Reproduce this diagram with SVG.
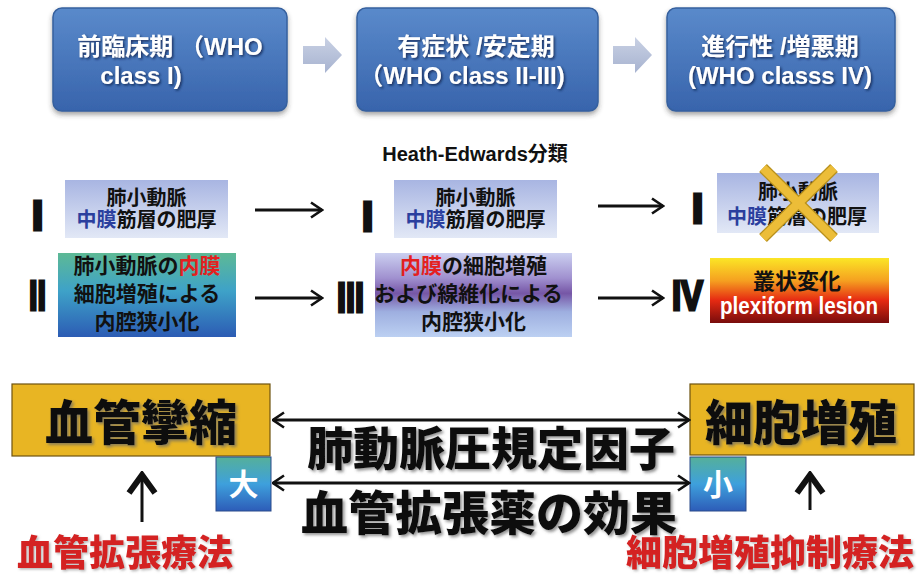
<svg xmlns="http://www.w3.org/2000/svg" width="919" height="579" viewBox="0 0 919 579">
<defs>
  <style>
    text { font-family: "Liberation Sans", "Noto Sans CJK JP", sans-serif; font-weight: bold; }
    .jp { font-family: "Noto Sans CJK JP", "Liberation Sans", sans-serif; font-weight: 900; }
    .top { fill: #ffffff; font-size: 24px; text-anchor: middle; filter: url(#tsh); }
    .cell { fill: #111; font-size: 20px; text-anchor: middle; }
    .cell2 { fill: #111; font-size: 21px; text-anchor: middle; }
    .num { fill: #111; stroke: #111; stroke-width: 3; font-size: 42px; }
    .big { fill: #111; text-anchor: middle; filter: url(#bsh); }
    .red { fill: #d42222; text-anchor: middle; filter: url(#rsh); }
    .bl { fill: #2b3f9e; }
    .rd { fill: #e42020; }
    .conn { stroke: #111; stroke-width: 3; fill: none; }
    .topbox { fill: url(#gTop); stroke: #36609e; stroke-width: 1.5; filter: url(#boxsh); }
    .ybox { fill: #e8b523; stroke: #6e5410; stroke-width: 1.2; }
    .lav { fill: url(#gLav); }
    .sq { fill: url(#gSq); stroke: #2a4a8a; stroke-width: 1; }
    .garrow { fill: url(#gGray); }
  </style>
  <linearGradient id="gTop" x1="0" y1="0" x2="0" y2="1">
    <stop offset="0" stop-color="#5a8acb"/>
    <stop offset="1" stop-color="#3864ac"/>
  </linearGradient>
  <linearGradient id="gGray" x1="0" y1="0" x2="0" y2="1">
    <stop offset="0" stop-color="#c9d1e4"/>
    <stop offset="1" stop-color="#a7b3d0"/>
  </linearGradient>
  <linearGradient id="gLav" x1="0" y1="0" x2="0" y2="1">
    <stop offset="0" stop-color="#a8b5e2"/>
    <stop offset="1" stop-color="#e2e8f6"/>
  </linearGradient>
  <linearGradient id="gTeal" x1="0" y1="0" x2="0" y2="1">
    <stop offset="0" stop-color="#5db995"/>
    <stop offset="0.45" stop-color="#3ea2c8"/>
    <stop offset="1" stop-color="#2c5cb4"/>
  </linearGradient>
  <linearGradient id="gPurp" x1="0" y1="0" x2="0" y2="1">
    <stop offset="0" stop-color="#cbcff0"/>
    <stop offset="0.3" stop-color="#a090cf"/>
    <stop offset="0.48" stop-color="#7656a6"/>
    <stop offset="0.7" stop-color="#9eafe0"/>
    <stop offset="1" stop-color="#bcd0f2"/>
  </linearGradient>
  <linearGradient id="gFire" x1="0" y1="0" x2="0" y2="1">
    <stop offset="0" stop-color="#fbe626"/>
    <stop offset="0.35" stop-color="#f5a020"/>
    <stop offset="0.65" stop-color="#e62a12"/>
    <stop offset="1" stop-color="#780c0c"/>
  </linearGradient>
  <linearGradient id="gSq" x1="0" y1="0" x2="0" y2="1">
    <stop offset="0" stop-color="#55b09a"/>
    <stop offset="0.5" stop-color="#3ea0dc"/>
    <stop offset="1" stop-color="#2d5cb8"/>
  </linearGradient>
  <filter id="tsh" x="-10%" y="-30%" width="120%" height="160%">
    <feDropShadow dx="1.5" dy="1.5" stdDeviation="1" flood-color="#10204a" flood-opacity="0.8"/>
  </filter>
  <filter id="bsh" x="-10%" y="-30%" width="120%" height="160%">
    <feDropShadow dx="2" dy="2" stdDeviation="1.5" flood-color="#666" flood-opacity="0.7"/>
  </filter>
  <filter id="rsh" x="-10%" y="-30%" width="120%" height="160%">
    <feDropShadow dx="1.5" dy="1.5" stdDeviation="1.2" flood-color="#888" flood-opacity="0.6"/>
  </filter>
  <filter id="boxsh" x="-10%" y="-10%" width="120%" height="130%">
    <feDropShadow dx="0" dy="3" stdDeviation="2.5" flood-color="#333" flood-opacity="0.45"/>
  </filter>
  <marker id="chev" viewBox="0 0 14 18" refX="12.5" refY="9" markerWidth="14" markerHeight="18" markerUnits="userSpaceOnUse" orient="auto-start-reverse">
    <path d="M1.5,1.5 L12.5,9 L1.5,16.5" fill="none" stroke="#111" stroke-width="2.6" stroke-linejoin="miter"/>
  </marker>
  <marker id="chevUp" viewBox="0 0 30 32" refX="27" refY="16" markerWidth="30" markerHeight="32" markerUnits="userSpaceOnUse" orient="auto">
    <path d="M8,3 L26,16 L8,29" fill="none" stroke="#111" stroke-width="6"/>
  </marker>
</defs>

<rect width="919" height="579" fill="#ffffff"/>

<!-- Top stage boxes -->
<g id="stage1">
  <rect class="topbox" x="53" y="8" width="234" height="103" rx="9"/>
  <text class="top" x="170" y="55">前臨床期 （WHO</text>
  <text class="top" x="141" y="84">class I)</text>
</g>
<g id="stage2">
  <rect class="topbox" x="357" y="8" width="241" height="103" rx="9"/>
  <text class="top" x="476" y="55">有症状 /安定期</text>
  <text class="top" x="462" y="84">（WHO class II-III)</text>
</g>
<g id="stage3">
  <rect class="topbox" x="667" y="8" width="228" height="103" rx="9"/>
  <text class="top" x="780" y="55">進行性 /増悪期</text>
  <text class="top" x="780" y="84">(WHO classs IV)</text>
</g>

<g id="title">
  <text x="475" y="161" font-size="20" text-anchor="middle" fill="#111">Heath-Edwards分類</text>
</g>

<!-- Row 1 -->
<g id="row1-col1">
  <text class="num" x="37.5" y="230" text-anchor="middle">I</text>
  <rect class="lav" x="65" y="180" width="163" height="58"/>
  <text class="cell" x="146.5" y="205">肺小動脈</text>
  <text class="cell" x="146.5" y="227"><tspan class="bl">中膜</tspan>筋層の肥厚</text>
</g>
<g id="row1-col2">
  <text class="num" x="367.5" y="231" text-anchor="middle">I</text>
  <rect class="lav" x="394" y="180" width="163" height="58"/>
  <text class="cell" x="475.5" y="205">肺小動脈</text>
  <text class="cell" x="475.5" y="227"><tspan class="bl">中膜</tspan>筋層の肥厚</text>
</g>
<g id="row1-col3">
  <text class="num" x="697.5" y="223" text-anchor="middle">I</text>
  <rect class="lav" x="717" y="173" width="162" height="60"/>
  <text class="cell" x="798" y="199">肺小動脈</text>
  <text class="cell" x="797" y="224"><tspan class="bl">中膜</tspan>筋層の肥厚</text>
  <g stroke-linecap="butt">
    <line x1="763" y1="168" x2="834" y2="238" stroke="#b8901c" stroke-width="11"/>
    <line x1="834" y1="168" x2="763" y2="238" stroke="#b8901c" stroke-width="11"/>
    <line x1="763" y1="168" x2="834" y2="238" stroke="#ecbd38" stroke-width="8.5"/>
    <line x1="834" y1="168" x2="763" y2="238" stroke="#ecbd38" stroke-width="8.5"/>
  </g>
</g>

<!-- Row 2 -->
<g id="row2-col1">
  <text class="num" x="29" y="310" font-size="38" textLength="17" lengthAdjust="spacingAndGlyphs">II</text>
  <rect x="58" y="253" width="178" height="84" fill="url(#gTeal)"/>
  <text class="cell2" x="147" y="273">肺小動脈の<tspan class="rd">内膜</tspan></text>
  <text class="cell2" x="147" y="301">細胞増殖による</text>
  <text class="cell2" x="147" y="329">内腔狭小化</text>
</g>
<g id="row2-col2">
  <text class="num" x="337" y="312" textLength="27" lengthAdjust="spacingAndGlyphs">III</text>
  <rect x="375" y="253" width="197" height="84" fill="url(#gPurp)"/>
  <text class="cell2" x="473.5" y="273"><tspan class="rd">内膜</tspan>の細胞増殖</text>
  <text class="cell2" x="468.5" y="301">および線維化による</text>
  <text class="cell2" x="473.5" y="329">内腔狭小化</text>
</g>
<g id="row2-col3">
  <text class="num" x="672" y="310" textLength="31" lengthAdjust="spacingAndGlyphs">IV</text>
  <rect x="710" y="258" width="179" height="65" fill="url(#gFire)"/>
  <text x="797" y="289" font-size="22" text-anchor="middle" fill="#111">叢状変化</text>
  <text x="720" y="314" font-size="23" fill="#ffffff" textLength="158" lengthAdjust="spacingAndGlyphs">plexiform lesion</text>
</g>

<!-- Bottom section -->
<g id="vasoconstriction">
  <rect class="ybox" x="12" y="384" width="258" height="72"/>
  <text class="big jp" x="141" y="440" font-size="48">血管攣縮</text>
</g>
<g id="proliferation">
  <rect class="ybox" x="690" y="384" width="224" height="71"/>
  <text class="big jp" x="801" y="440" font-size="48">細胞増殖</text>
</g>
<g id="large">
  <rect class="sq" x="216" y="457" width="55" height="54"/>
  <text x="243.5" y="495" font-size="30" fill="#fff" text-anchor="middle">大</text>
</g>
<g id="small">
  <rect class="sq" x="690" y="457" width="56" height="54"/>
  <text x="718" y="495" font-size="30" fill="#fff" text-anchor="middle">小</text>
</g>
<g id="pap-factor">
  <text class="big jp" x="491" y="465" font-size="46">肺動脈圧規定因子</text>
</g>
<g id="vasodilator-effect">
  <text class="big jp" x="489" y="530" font-size="47">血管拡張薬の効果</text>
</g>
<g id="vasodilator-therapy">
  <text class="red jp" x="125" y="566" font-size="36">血管拡張療法</text>
</g>
<g id="antiproliferative-therapy">
  <text class="red jp" x="770" y="566" font-size="36">細胞増殖抑制療法</text>
</g>

<!-- Connectors -->
<g id="connectors">
  <polygon class="garrow" points="303,46 325,46 325,37 342,55 325,73 325,64 303,64"/>
  <polygon class="garrow" points="613,46 635,46 635,37 652,55 635,73 635,64 613,64"/>
  <line class="conn" x1="255" y1="210" x2="322" y2="210" marker-end="url(#chev)"/>
  <line class="conn" x1="598" y1="206" x2="663" y2="206" marker-end="url(#chev)"/>
  <line class="conn" x1="255" y1="298" x2="322" y2="298" marker-end="url(#chev)"/>
  <line class="conn" x1="598" y1="298" x2="663" y2="298" marker-end="url(#chev)"/>
  <line class="conn" x1="273" y1="420" x2="689" y2="420" marker-start="url(#chev)" marker-end="url(#chev)"/>
  <line class="conn" x1="273" y1="483" x2="689" y2="483" marker-start="url(#chev)" marker-end="url(#chev)"/>
  <line class="conn" x1="142" y1="522" x2="142" y2="474" stroke-width="5" marker-end="url(#chevUp)"/>
  <line class="conn" x1="810" y1="510" x2="810" y2="474" stroke-width="5" marker-end="url(#chevUp)"/>
</g>
</svg>
